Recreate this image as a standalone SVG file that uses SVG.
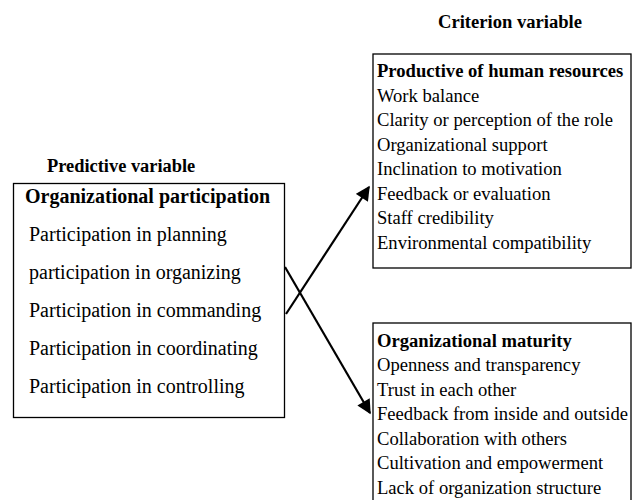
<svg xmlns="http://www.w3.org/2000/svg" width="632" height="500" viewBox="0 0 632 500">
<style>
.t{font-family:"Liberation Serif","Times New Roman",serif;fill:#000}
.l{font-size:20px}
.r{font-size:18.6px}
.b{font-weight:bold}
.box{fill:#fff;stroke:#000;stroke-width:1.3}
.c{stroke:#000;stroke-width:2.2;fill:none}
</style>
<defs>
<marker id="ah" viewBox="0 0 10 10" refX="9" refY="5" markerWidth="7" markerHeight="6.5" markerUnits="strokeWidth" orient="auto">
<path d="M0,0 L10,5 L0,10 z" fill="#000"/>
</marker>
</defs>
<rect width="632" height="500" fill="#fff"/>
<text class="t b" x="47" y="172" style="font-size:18.4px">Predictive variable</text>
<text class="t b r" x="510" y="28" text-anchor="middle">Criterion variable</text>
<g id="predictive">
<rect class="box" x="13.5" y="183.5" width="271" height="234"/>
<text class="t l b" x="25" y="203">Organizational participation</text>
<text class="t l" x="29" y="241">Participation in planning</text>
<text class="t l" x="29" y="279">participation in organizing</text>
<text class="t l" x="29" y="317">Participation in commanding</text>
<text class="t l" x="29" y="355">Participation in coordinating</text>
<text class="t l" x="29" y="393">Participation in controlling</text>
</g>
<g id="productive">
<rect class="box" x="373" y="54" width="258" height="214"/>
<text class="t r b" x="377" y="77">Productive of human resources</text>
<text class="t r" x="377" y="101.5">Work balance</text>
<text class="t r" x="377" y="126">Clarity or perception of the role</text>
<text class="t r" x="377" y="150.5">Organizational support</text>
<text class="t r" x="377" y="175">Inclination to motivation</text>
<text class="t r" x="377" y="199.5">Feedback or evaluation</text>
<text class="t r" x="377" y="224">Staff credibility</text>
<text class="t r" x="377" y="248.5">Environmental compatibility</text>
</g>
<g id="maturity">
<rect class="box" x="373" y="323" width="258" height="190"/>
<text class="t r b" x="377" y="347">Organizational maturity</text>
<text class="t r" x="377" y="371">Openness and transparency</text>
<text class="t r" x="377" y="395.5">Trust in each other</text>
<text class="t r" x="377" y="420">Feedback from inside and outside</text>
<text class="t r" x="377" y="444.5">Collaboration with others</text>
<text class="t r" x="377" y="469">Cultivation and empowerment</text>
<text class="t r" x="377" y="493.5">Lack of organization structure</text>
</g>
<g id="connectors">
<line class="c" x1="286" y1="314" x2="369" y2="187" marker-end="url(#ah)"/>
<line class="c" x1="285" y1="267" x2="370" y2="413" marker-end="url(#ah)"/>
</g>
</svg>
